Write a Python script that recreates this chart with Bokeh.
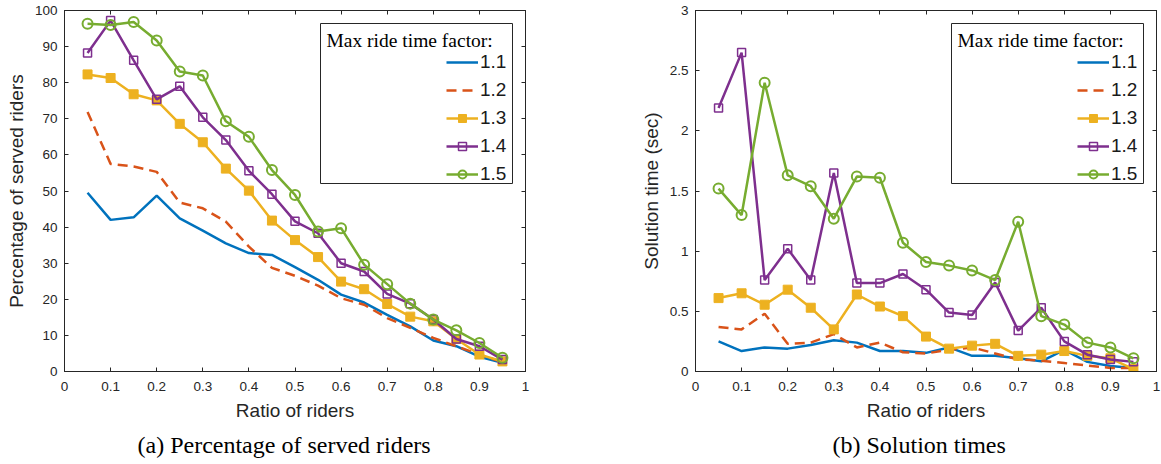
from bokeh.plotting import figure
from bokeh.models import (Range1d, LinearAxis, FixedTicker, CustomJSTickFormatter,
                          Legend, LegendItem, Label, BoxAnnotation, Title)
from bokeh.layouts import row
from bokeh.embed import file_html
from bokeh.resources import INLINE

# ---------------- data ----------------
ratio = [0.05, 0.10, 0.15, 0.20, 0.25, 0.30, 0.35, 0.40, 0.45, 0.50,
         0.55, 0.60, 0.65, 0.70, 0.75, 0.80, 0.85, 0.90, 0.95]

factors = ["1.1", "1.2", "1.3", "1.4", "1.5"]

# (a) Percentage of served riders
pct_11 = [49.5, 42.0, 42.7, 48.7, 42.4, 39.0, 35.5, 32.8, 32.3, 28.9,
          25.4, 21.3, 19.1, 15.7, 12.5, 8.6, 7.0, 4.1, 2.4]
pct_12 = [71.9, 57.5, 56.8, 55.3, 46.8, 45.2, 41.5, 34.6, 28.7, 26.5,
          23.8, 20.3, 18.5, 14.8, 12.1, 9.3, 7.0, 4.7, 2.6]
pct_13 = [82.3, 81.3, 76.8, 75.1, 68.6, 63.5, 56.2, 50.1, 41.8, 36.4,
          31.7, 24.9, 22.8, 18.7, 15.2, 13.9, 9.0, 4.7, 2.8]
pct_14 = [88.2, 97.2, 86.2, 75.4, 79.0, 70.4, 64.1, 55.6, 49.1, 41.6,
          38.3, 30.0, 27.7, 21.5, 18.8, 14.4, 9.0, 7.0, 3.3]
pct_15 = [96.3, 96.0, 96.8, 91.7, 83.1, 82.0, 69.3, 65.0, 55.8, 48.9,
          38.8, 39.7, 29.6, 24.2, 18.8, 14.4, 11.4, 7.9, 3.8]

# (b) Solution times (sec)
t_11 = [0.25, 0.17, 0.20, 0.19, 0.22, 0.26, 0.24, 0.17, 0.17, 0.155,
        0.20, 0.13, 0.13, 0.11, 0.085, 0.18, 0.08, 0.045, 0.03]
t_12 = [0.37, 0.35, 0.48, 0.23, 0.24, 0.31, 0.20, 0.24, 0.16, 0.15,
        0.18, 0.20, 0.15, 0.10, 0.09, 0.07, 0.05, 0.03, 0.03]
t_13 = [0.61, 0.65, 0.555, 0.68, 0.53, 0.35, 0.64, 0.54, 0.46, 0.29,
        0.19, 0.215, 0.23, 0.13, 0.14, 0.17, 0.13, 0.11, 0.02]
t_14 = [2.19, 2.65, 0.76, 1.02, 0.76, 1.65, 0.735, 0.735, 0.81, 0.68,
        0.49, 0.47, 0.74, 0.34, 0.53, 0.25, 0.14, 0.10, 0.08]
t_15 = [1.52, 1.30, 2.40, 1.63, 1.54, 1.27, 1.62, 1.61, 1.07, 0.91,
        0.88, 0.84, 0.76, 1.245, 0.46, 0.39, 0.24, 0.20, 0.11]

x_ticks = [0, 0.1, 0.2, 0.3, 0.4, 0.5, 0.6, 0.7, 0.8, 0.9, 1]
pct_ticks = [0, 10, 20, 30, 40, 50, 60, 70, 80, 90, 100]
time_ticks = [0, 0.5, 1, 1.5, 2, 2.5, 3]

# ---------------- style ----------------
colors = ["#0072BD", "#D95319", "#EDB120", "#7E2F8E", "#77AC30"]
AX = "#262626"
SANS = "Liberation Sans"
SERIF = "Liberation Serif"

fmt_code = "return String(Math.round(tick * 100) / 100);"


def style_axis(ax, ticks, show_labels):
    ax.ticker = FixedTicker(ticks=ticks)
    ax.minor_tick_line_color = None
    ax.major_tick_in = 4
    ax.major_tick_out = 0
    ax.axis_line_color = AX
    ax.major_tick_line_color = AX
    ax.axis_line_width = 1
    if show_labels:
        ax.formatter = CustomJSTickFormatter(code=fmt_code)
        ax.major_label_text_font = SANS
        ax.major_label_text_font_size = "13.5px"
        ax.major_label_text_color = AX
        ax.major_label_standoff = 8
        ax.axis_label_text_font = SANS
        ax.axis_label_text_font_size = "19px"
        ax.axis_label_text_font_style = "normal"
        ax.axis_label_text_color = AX
        ax.axis_label_standoff = 5
    else:
        ax.formatter = CustomJSTickFormatter(code="return '';")
        ax.major_label_standoff = 0
        ax.major_label_text_font_size = "0px"


def make_panel(series, y_end, y_ticks, ylabel, caption, cap_offset,
               border_left, border_right):
    p = figure(output_backend="svg", toolbar_location=None,
               frame_width=461, frame_height=361,
               min_border_left=border_left, min_border_right=border_right,
               min_border_top=10, min_border_bottom=93,
               x_range=Range1d(0, 1), y_range=Range1d(0, y_end),
               x_axis_label="Ratio of riders", y_axis_label=ylabel)
    p.grid.visible = False
    p.outline_line_color = AX
    p.background_fill_color = "white"
    p.border_fill_color = "white"

    style_axis(p.xaxis[0], x_ticks, True)
    style_axis(p.yaxis[0], y_ticks, True)
    p.xaxis[0].major_label_standoff = 10
    p.xaxis[0].axis_label_standoff = 6
    p.yaxis[0].major_label_standoff = 7

    top_ax = LinearAxis()
    style_axis(top_ax, x_ticks, False)
    p.add_layout(top_ax, "above")
    right_ax = LinearAxis()
    style_axis(right_ax, y_ticks, False)
    p.add_layout(right_ax, "right")

    items = []
    for i, (ys, c, lab) in enumerate(zip(series, colors, factors)):
        rs = []
        if i == 1:
            rs.append(p.line(ratio, ys, line_color=c, line_width=2.5, line_dash="10 6"))
        else:
            rs.append(p.line(ratio, ys, line_color=c, line_width=2.5))
        if i == 2:
            rs.append(p.scatter(ratio, ys, marker="square", size=9,
                                fill_color=c, line_color=c, line_width=1))
        elif i == 3:
            rs.append(p.scatter(ratio, ys, marker="square", size=8,
                                fill_alpha=0, line_color=c, line_width=1.5))
        elif i == 4:
            rs.append(p.scatter(ratio, ys, marker="circle", size=10,
                                fill_alpha=0, line_color=c, line_width=2))
        items.append(LegendItem(label=lab, renderers=rs))

    box = BoxAnnotation(left=256, right=448, bottom=188, top=348,
                        left_units="screen", right_units="screen",
                        top_units="screen", bottom_units="screen",
                        fill_color="white", fill_alpha=1,
                        line_color=AX, line_width=1, line_alpha=1)
    p.add_layout(box)

    title = Label(x=262, y=331, x_units="screen", y_units="screen",
                  text="Max ride time factor:", text_font=SERIF,
                  text_font_size="19.5px", text_color="black",
                  text_baseline="middle", text_align="left")
    p.add_layout(title)

    legend = Legend(items=items, location=(382, 186), orientation="vertical",
                    padding=0, margin=0, spacing=6,
                    glyph_width=32, glyph_height=20, label_height=20,
                    label_standoff=2, label_text_font=SANS,
                    label_text_font_size="19px", label_text_color="#1a1a1a",
                    border_line_alpha=0, background_fill_alpha=0)
    p.add_layout(legend, "center")

    cap = Title(text=caption, align="left", text_font=SERIF,
                text_font_size="24px", text_font_style="normal",
                text_color="black", standoff=13, offset=cap_offset)
    p.add_layout(cap, "below")
    return p


p1 = make_panel([pct_11, pct_12, pct_13, pct_14, pct_15], 100, pct_ticks,
                "Percentage of served riders", "(a) Percentage of served riders",
                73, 64, 75)
p2 = make_panel([t_11, t_12, t_13, t_14, t_15], 3, time_ticks,
                "Solution time (sec)", "(b) Solution times", 137, 95, 5)

layout = row(p1, p2)
open("out.html", "w").write(file_html(layout, INLINE))
